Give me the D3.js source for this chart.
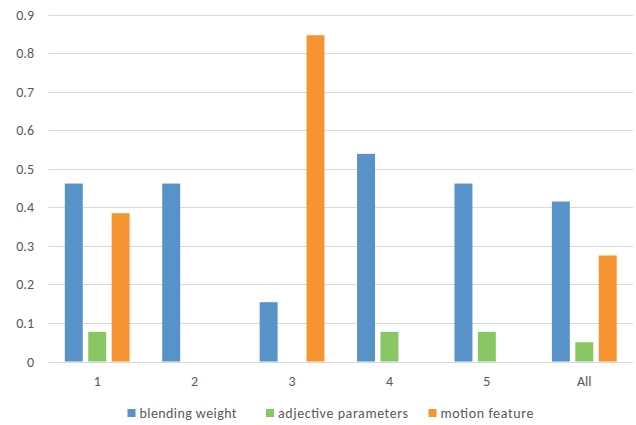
<!DOCTYPE html>
<html><head><meta charset="utf-8">
<script src="https://cdn.jsdelivr.net/npm/d3@7"></script>
<style>
html,body{margin:0;padding:0;background:#fff;}
svg{display:block;font-family:Carlito,Lato,"Liberation Sans",sans-serif;}
</style></head>
<body>
<svg id="chart" width="636" height="425"></svg>
<script>
const categories = ["1","2","3","4","5","All"];
const seriesNames = ["blending weight","adjective parameters","motion feature"];
const blendingWeight = [0.4615,0.4615,0.1538,0.5385,0.4615,0.415];
const adjectiveParameters = [0.0769,0,0,0.0769,0.0769,0.05];
const motionFeature = [0.3846,0,0.8462,0,0,0.275];
const yTicks = [0,0.1,0.2,0.3,0.4,0.5,0.6,0.7,0.8,0.9];
const colors = ["#5793c8","#88c764","#f59430"];

const series = [blendingWeight, adjectiveParameters, motionFeature];
const svg = d3.select("#chart");
const x0 = 48.5, x1 = 633, yTop = 14.5, yBot = 361.5;

const x = d3.scaleBand().domain(categories).range([x0,x1]).padding(0);
const y = d3.scaleLinear().domain([0,0.9]).range([yBot,yTop]);
const xs = d3.scaleBand().domain(d3.range(3)).range([0, 64.8]).paddingInner(0.234);

// gridlines
svg.append("g").selectAll("line").data(yTicks).join("line")
  .attr("x1",x0).attr("x2",x1)
  .attr("y1",d=>Math.round(y(d))+0.5).attr("y2",d=>Math.round(y(d))+0.5)
  .attr("stroke","#d9d9d9").attr("stroke-width",1.2);

// y labels
svg.append("g").selectAll("text").data(yTicks).join("text")
  .attr("x",34).attr("y",d=>y(d)+5)
  .attr("text-anchor","end").attr("fill","#595959").attr("font-size",14)
  .text(d=>d===0?"0":d3.format(".1f")(d));

// bars
const groups = svg.append("g").selectAll("g").data(categories).join("g")
  .attr("transform",c=>`translate(${x(c)+x.bandwidth()/2-32.4},0)`);
groups.selectAll("rect").data((c,i)=>series.map((s,k)=>({k,v:s[i]})).filter(d=>d.v>0)).join("rect")
  .attr("x",d=>xs(d.k)).attr("width",xs.bandwidth())
  .attr("y",d=>y(d.v)).attr("height",d=>yBot-y(d.v))
  .attr("fill",d=>colors[d.k]);

// x labels
svg.append("g").selectAll("text").data(categories).join("text")
  .attr("x",c=>x(c)+x.bandwidth()/2).attr("y",386)
  .attr("text-anchor","middle").attr("fill","#595959").attr("font-size",14)
  .text(c=>c);

// legend
const legX = [127.5,266,428.5];
const legW = [97,130,93];
const leg = svg.append("g").selectAll("g").data(seriesNames).join("g")
  .attr("transform",(d,i)=>`translate(${legX[i]},0)`);
leg.append("rect").attr("x",0).attr("y",409).attr("width",8).attr("height",8)
  .attr("fill",(d,i)=>colors[i]);
leg.append("text").attr("x",12).attr("y",418).attr("fill","#595959").attr("font-size",14)
  .attr("textLength",(d,i)=>legW[i]).attr("lengthAdjust","spacing")
  .text(d=>d);
</script>
</body></html>
